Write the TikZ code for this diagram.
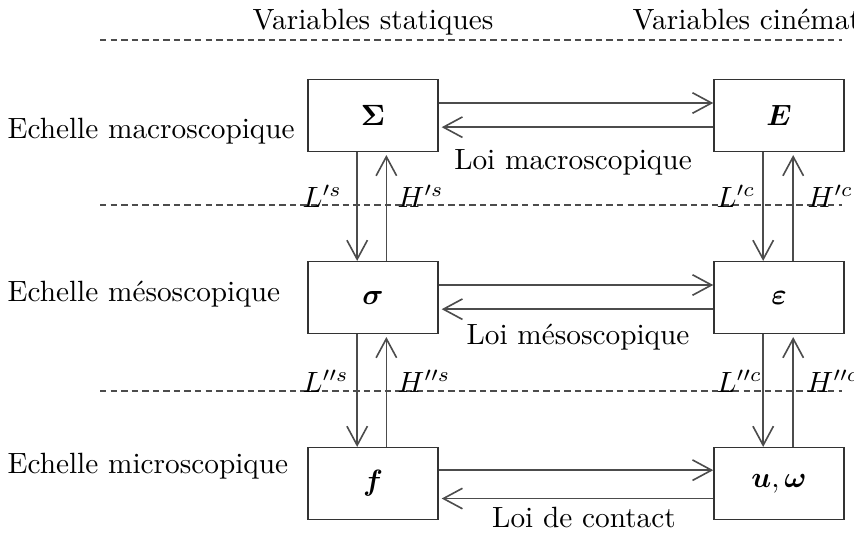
\documentclass[tikz,border=0pt]{standalone}
\usepackage{bm}
\usetikzlibrary{arrows.meta}
\begin{document}
\begin{tikzpicture}[x=0.012cm,y=-0.012cm,
  box/.style={draw=black!80,line width=0.5pt,minimum width=1.56cm,minimum height=0.86cm,inner sep=0pt},
  arr/.style={draw=black!70,line width=0.55pt,-{Straight Barb[length=6.5pt,width=7pt,line width=0.55pt]}},
  sep/.style={draw=black!70,line width=0.5pt,dash pattern=on 2.2pt off 1.4pt},
  lab/.style={inner sep=0pt}]
\useasboundingbox (0,0) rectangle (854,553);
\clip (0,0) rectangle (854,553);
% headers
\node[lab] (hs) at (373,22) {Variables statiques};
\node[lab] (hc) at (779,22) {Variables cinématiques};
% separators
\coordinate (d1a) at (100,40); \coordinate (d1b) at (842,40);
\coordinate (d2a) at (100,205); \coordinate (d2b) at (842,205);
\coordinate (d3a) at (100,391); \coordinate (d3b) at (842,391);
\draw[sep] (d1a) -- (d1b);
\draw[sep] (d2a) -- (d2b);
\draw[sep] (d3a) -- (d3b);
% scale labels
\node[lab,anchor=west] (sc1) at (7,131) {Echelle macroscopique};
\node[lab,anchor=west] (sc2) at (7,294) {Echelle mésoscopique};
\node[lab,anchor=west] (sc3) at (7,466) {Echelle microscopique};
% boxes
\node[box,fill=white] (S) at (373,115.5) {$\bm{\Sigma}$};
\node[box,fill=white] (E) at (779,115.5) {$\bm{E}$};
\node[box,fill=white] (s) at (373,297.5) {$\bm{\sigma}$};
\node[box,fill=white] (e) at (779,297.5) {$\bm{\varepsilon}$};
\node[box,fill=white] (f) at (373,483.5) {$\bm{f}$};
\node[box,fill=white] (u) at (779,483.5) {$\bm{u},\bm{\omega}$};
% horizontal arrows
\draw[arr] ([yshift=0.15cm]S.east) -- ([yshift=0.15cm]E.west);
\draw[arr] ([yshift=-0.14cm]E.west) -- ([yshift=-0.14cm,xshift=1pt]S.east);
\draw[arr] ([yshift=0.15cm]s.east) -- ([yshift=0.15cm]e.west);
\draw[arr] ([yshift=-0.14cm]e.west) -- ([yshift=-0.14cm,xshift=1pt]s.east);
\draw[arr] ([yshift=0.16cm]f.east) -- ([yshift=0.16cm]u.west);
\draw[arr] ([yshift=-0.18cm]u.west) -- ([yshift=-0.18cm,xshift=1pt]f.east);
% vertical arrows
\draw[arr] ([xshift=-0.19cm]S.south) -- ([xshift=-0.19cm]s.north);
\draw[arr] ([xshift=0.16cm]s.north) -- ([xshift=0.16cm,yshift=-1pt]S.south);
\draw[arr] ([xshift=-0.19cm]s.south) -- ([xshift=-0.19cm]f.north);
\draw[arr] ([xshift=0.16cm]f.north) -- ([xshift=0.16cm,yshift=-1pt]s.south);
\draw[arr] ([xshift=-0.19cm]E.south) -- ([xshift=-0.19cm]e.north);
\draw[arr] ([xshift=0.17cm]e.north) -- ([xshift=0.17cm,yshift=-1pt]E.south);
\draw[arr] ([xshift=-0.19cm]e.south) -- ([xshift=-0.19cm]u.north);
\draw[arr] ([xshift=0.17cm]u.north) -- ([xshift=0.17cm,yshift=-1pt]e.south);
% law labels
\node[lab] (l1) at (573,162) {Loi macroscopique};
\node[lab] (l2) at (578,337) {Loi mésoscopique};
\node[lab] (l3) at (584,517) {Loi de contact};
% operator labels
\node[lab,anchor=base west] (Ls1) at (302,207) {$L'^s$};
\node[lab,anchor=base west] (Hs1) at (397,207) {$H'^s$};
\node[lab,anchor=base west] (Lc1) at (716,207) {$L'^c$};
\node[lab,anchor=base west] (Hc1) at (807,207) {$H'^c$};
\node[lab,anchor=base west] (Ls2) at (302,392) {$L''^s$};
\node[lab,anchor=base west] (Hs2) at (397,392) {$H''^s$};
\node[lab,anchor=base west] (Lc2) at (716,392) {$L''^c$};
\node[lab,anchor=base west] (Hc2) at (806,392) {$H''^c$};
\end{tikzpicture}
\end{document}
